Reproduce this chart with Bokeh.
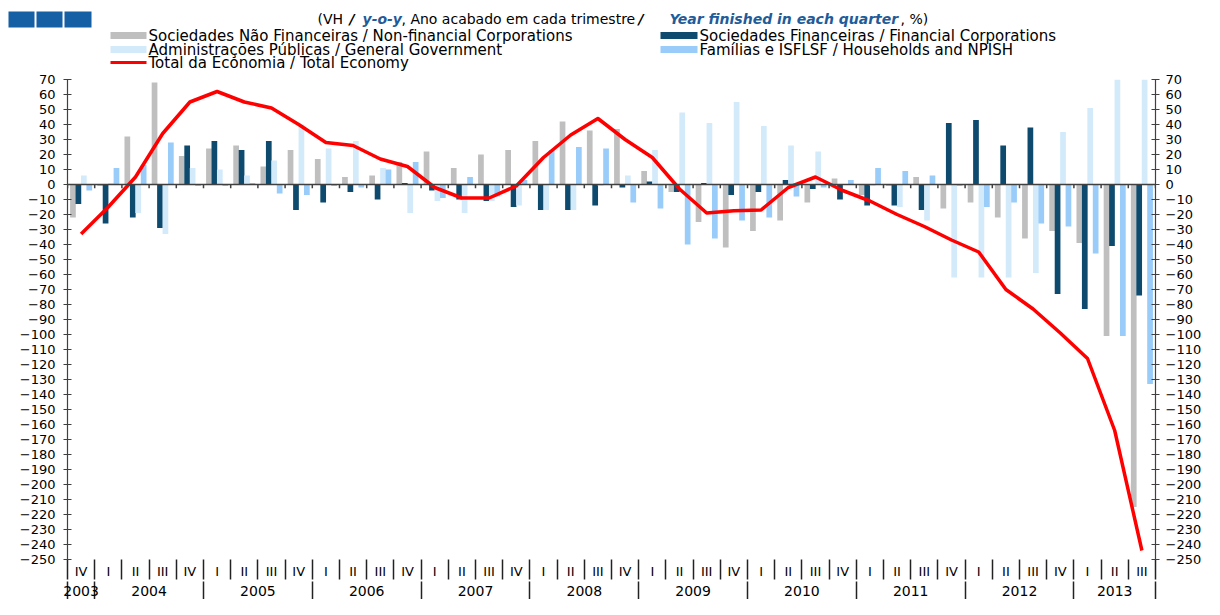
import numpy as np
from bokeh.plotting import figure
from bokeh.layouts import column
from bokeh.models import (Range1d, LinearAxis, FixedTicker, Span, Label, BoxAnnotation)
from bokeh.embed import file_html
from bokeh.resources import INLINE

# ---------------- data ----------------
quarter_labels = ["IV"] + ["I", "II", "III", "IV"] * 9 + ["I", "II", "III"]
quarter_years = ["2003"] + [str(y) for y in range(2004, 2013) for _ in range(4)] + ["2013"] * 3

non_financial = [-22, -1, 32, 68, 19, 24, 26, 12, 23, 17, 5, 6, 15, 22, 11, 20, 23, 29, 42, 36,
                 37, 9, -5, -25, -42, -31, -24, -12, 4, -7, -1, 5, -16, -12, -22, -36, -31, -39, -101, -215]
financial = [-13, -26, -22, -29, 26, 29, 23, 29, -17, -12, -5, -10, 1, -4, -10, -11, -15, -17, -17, -14,
             -2, 2, -5, 1, -7, -5, 3, -3, -10, -14, -14, -17, 41, 43, 26, 38, -73, -83, -41, -74]
general_gov = [6, 1, -19, -33, 11, 10, 6, 16, 40, 24, 29, 11, -19, -11, -19, -11, -14, -17, -17, -1,
               6, 23, 48, 41, 55, 39, 26, 22, 0, -1, -15, -24, -62, -62, -62, -59, 35, 51, 70, 70]
households = [-4, 11, 13, 28, -1, -1, 1, -6, -7, -1, -2, 10, 15, -9, 5, -8, 3, 23, 25, 24,
              -12, -16, -40, -36, -24, -22, -8, -2, 3, 11, 9, 6, -1, -15, -12, -26, -28, -46, -101, -133]
total_economy = [-33, -15, 5, 34, 55, 62, 55, 51, 40, 28, 26, 17, 12, -2, -9, -9, -1, 18, 33, 44,
                 30, 18, -3, -19, -17.5, -17, -2, 5, -4, -11, -20, -28, -37, -45, -70, -83, -99, -116, -164, -244]

series_names = ["Sociedades Não Financeiras / Non-financial Corporations",
                "Sociedades Financeiras / Financial Corporations",
                "Administrações Públicas / General Government",
                "Famílias e ISFLSF / Households and NPISH",
                "Total da Economia / Total Economy"]

y_ticks = list(range(-250, 71, 10))

# ---------------- derived positions ----------------
n = len(quarter_labels)
centers = np.arange(n) + 0.5
bounds = np.arange(n + 1).astype(float)

year_names = []
year_bounds = [0.0]
for i, y in enumerate(quarter_years):
    if not year_names or year_names[-1] != y:
        if year_names:
            year_bounds.append(float(i))
        year_names.append(y)
year_bounds.append(float(n))
year_centers = [float(np.mean([c for c, yy in zip(centers, quarter_years) if yy == y]))
                for y in year_names]

FONT = "DejaVu Sans"
GRAY = "#bfbfbf"
DARK = "#0d4a6e"
PALE = "#d3eafb"
LIGHT = "#99ccf9"
RED = "#ff0000"
AX = "#404040"
W = 1204
HEAD_H = 71

# ---------------- header (title, legend, logo) ----------------
head = figure(width=W, height=HEAD_H, x_range=Range1d(0, W), y_range=Range1d(HEAD_H, 0),
              output_backend="svg", toolbar_location=None, x_axis_type=None, y_axis_type=None,
              min_border_left=0, min_border_right=0, min_border_top=0, min_border_bottom=0)
head.frame_align = False
head.outline_line_color = None
head.grid.visible = False

# legend (two columns, drawn as swatches + labels)
legend_entries = [
    (series_names[0], GRAY, 110, 146, 35, 7),
    (series_names[2], PALE, 110, 146, 49, 7),
    (series_names[4], RED, 110, 146, 62, 3),
    (series_names[1], DARK, 660, 697, 35, 7),
    (series_names[3], LIGHT, 660, 697, 49, 7),
]
for name, col, x0, x1, yc, hh in legend_entries:
    head.add_layout(BoxAnnotation(left=x0, right=x1, top=yc - hh / 2, bottom=yc + hh / 2,
                                  fill_color=col, fill_alpha=1, line_color=None))
    head.add_layout(Label(x=x1 + 2, y=yc, text=name, text_font=FONT, text_font_size="15px",
                          text_color="black", text_baseline="middle", text_align="left"))

TBLUE = "#1f5c99"
pieces = [
    ("(VH", 317, "normal", "black"),
    ("/", 349, "bold italic", "black"),
    ("y-o-y", 362, "bold italic", TBLUE),
    (", Ano acabado em cada trimestre", 401, "normal", "black"),
    ("/", 638, "bold italic", "black"),
    ("Year finished in each quarter", 669, "bold italic", TBLUE),
    (", %)", 900, "normal", "black"),
]
for txt, xpos, style, col in pieces:
    head.add_layout(Label(x=xpos, y=18, text=txt, text_font=FONT, text_font_size="14px",
                          text_font_style=style, text_color=col,
                          text_baseline="middle", text_align="left"))

for l, r in ((8, 34), (36, 62), (64, 91)):
    head.add_layout(BoxAnnotation(left=l, right=r, top=11, bottom=27,
                                  fill_color="#155fa5", fill_alpha=1, line_color=None))

# ---------------- main chart ----------------
p = figure(width=W, height=599 - HEAD_H, x_range=Range1d(0, n), y_range=Range1d(-250, 70),
           output_backend="svg", toolbar_location=None,
           x_axis_type=None, y_axis_type=None,
           min_border_left=67, min_border_right=W - 1163, min_border_top=8,
           min_border_bottom=40)
p.frame_align = False
p.outline_line_color = None
p.background_fill_color = "white"
p.border_fill_color = "white"

bw = 0.21
r1 = p.vbar(x=centers - 0.3, top=non_financial, width=bw, fill_color=GRAY, line_color=None)
r2 = p.vbar(x=centers - 0.1, top=financial, width=bw, fill_color=DARK, line_color=None)
r3 = p.vbar(x=centers + 0.1, top=general_gov, width=bw, fill_color=PALE, line_color=None)
r4 = p.vbar(x=centers + 0.3, top=households, width=bw, fill_color=LIGHT, line_color=None)

p.add_layout(Span(location=0, dimension="width", line_color=AX, line_width=1.5))
p.segment(x0=bounds, y0=np.zeros(n + 1), x1=bounds, y1=np.full(n + 1, -2.5),
          line_color=AX, line_width=1.5)

rl = p.line(centers, total_economy, line_color=RED, line_width=3.5, line_join="round")

for side in ("left", "right"):
    ax = LinearAxis(ticker=FixedTicker(ticks=y_ticks, minor_ticks=[]))
    ax.axis_line_color = AX
    ax.axis_line_width = 1.2
    ax.major_tick_line_color = AX
    ax.major_tick_in = 4
    ax.major_tick_out = 4
    ax.minor_tick_line_color = None
    ax.major_label_standoff = 8 if side == "left" else 6
    ax.major_label_text_font = FONT
    ax.major_label_text_font_size = "13px"
    ax.major_label_text_color = "black"
    p.add_layout(ax, side)

qax = LinearAxis(ticker=FixedTicker(ticks=list(centers), minor_ticks=list(bounds)))
qax.major_label_overrides = {float(c): q for c, q in zip(centers, quarter_labels)}
qax.axis_line_color = None
qax.major_tick_line_color = None
qax.major_tick_in = 0
qax.major_tick_out = 0
qax.minor_tick_line_color = "#222222"
qax.minor_tick_line_width = 1.5
qax.minor_tick_in = 0
qax.minor_tick_out = 20
qax.major_label_standoff = -16
qax.major_label_text_font = FONT
qax.major_label_text_font_size = "13px"
qax.major_label_text_color = "black"
p.add_layout(qax, "below")

yax = LinearAxis(ticker=FixedTicker(ticks=year_centers, minor_ticks=year_bounds))
yax.major_label_overrides = {c: y for c, y in zip(year_centers, year_names)}
yax.axis_line_color = None
yax.major_tick_line_color = None
yax.major_tick_in = 0
yax.major_tick_out = 0
yax.minor_tick_line_color = "#222222"
yax.minor_tick_line_width = 1.5
yax.minor_tick_in = 0
yax.minor_tick_out = 22
yax.major_label_standoff = -18
yax.major_label_text_font = FONT
yax.major_label_text_font_size = "14px"
yax.major_label_text_color = "black"
p.add_layout(yax, "below")

layout = column(head, p, spacing=0)
open("out.html", "w").write(file_html(layout, INLINE))
